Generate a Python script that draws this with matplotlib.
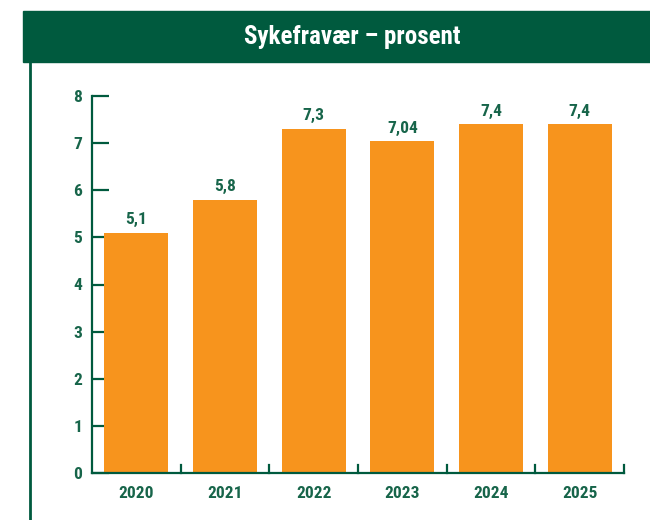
import matplotlib
matplotlib.use("Agg")
import matplotlib.pyplot as plt
from matplotlib.patches import Rectangle
from matplotlib.lines import Line2D
from matplotlib import font_manager

years = ["2020", "2021", "2022", "2023", "2024", "2025"]
values = [5.1, 5.8, 7.3, 7.04, 7.4, 7.4]
value_labels = ["5,1", "5,8", "7,3", "7,04", "7,4", "7,4"]
y_ticks = [0, 1, 2, 3, 4, 5, 6, 7, 8]
title = "Sykefravær – prosent"

GREEN = "#005A3E"
TEXT = "#17654A"
ORANGE = "#F7941D"

names = {f.name for f in font_manager.fontManager.ttflist}
fam = []
for n in ["Liberation Sans Narrow", "DejaVu Sans Condensed", "Roboto Condensed"]:
    if n in names:
        fam.append(n)
fam.append("DejaVu Sans")
plt.rcParams['font.family'] = fam
plt.rcParams['font.stretch'] = 'condensed'

fig = plt.figure(figsize=(6.5, 5.2), dpi=100)
W, H = 650, 520

# header bar
fig.patches.append(Rectangle((23 / W, 1 - 62 / H), 1 - 23 / W, 51 / H,
                             transform=fig.transFigure, color=GREEN, zorder=0))
fig.text(352 / W, 1 - 37 / H, title, ha="center", va="center",
         color="white", fontsize=18, fontweight="bold")
# left border line
fig.add_artist(Line2D([29.5 / W, 29.5 / W], [0, 1 - 62 / H],
                      transform=fig.transFigure, color=GREEN, lw=2))

ax = fig.add_axes([92 / W, 1 - 473 / H, (624 - 92) / W, (473 - 96) / H])
x = list(range(len(years)))
bars = ax.bar(x, values, width=0.72, color=ORANGE, zorder=2)
ax.set_xlim(-0.5, len(years) - 0.5)
ax.set_ylim(0, 8)

for xi, v, lab in zip(x, values, value_labels):
    ax.annotate(lab, (xi, v), xytext=(0, 4), textcoords="offset points",
                ha="center", va="bottom", color=TEXT, fontsize=12.5,
                fontweight="bold")

for s in ["top", "right"]:
    ax.spines[s].set_visible(False)
for s in ["left", "bottom"]:
    ax.spines[s].set_color(GREEN)
    ax.spines[s].set_linewidth(1.6)

ax.set_yticks(y_ticks)
ax.set_yticklabels([str(t) for t in y_ticks])
ax.tick_params(axis="y", direction="in", length=12, width=1.6, color=GREEN,
               labelcolor=TEXT, labelsize=12.5, pad=7)
ax.set_xticks(x)
ax.set_xticklabels(years)
ax.tick_params(axis="x", length=0, labelcolor=TEXT, labelsize=12.5, pad=9)
for lab in ax.get_xticklabels() + ax.get_yticklabels():
    lab.set_fontweight("bold")

# upward separator ticks between categories
for b in [i + 0.5 for i in range(len(years))]:
    ax.plot([b, b], [0, 0.17], color=GREEN, lw=1.6, clip_on=False, zorder=3)

fig.savefig("out.png", dpi=100)
